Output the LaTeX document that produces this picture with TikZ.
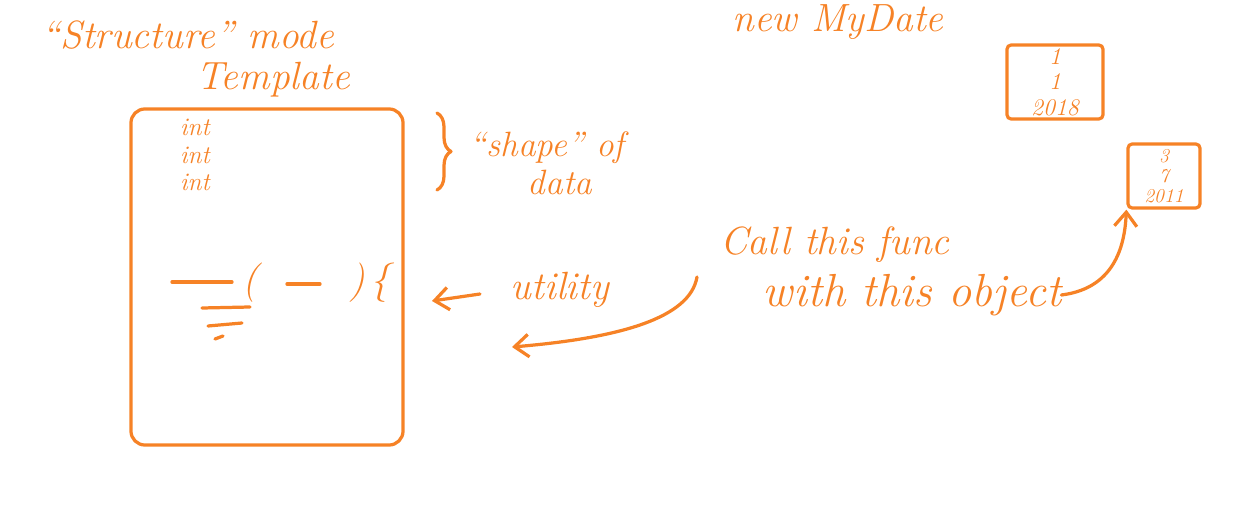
\documentclass[tikz,border=0pt]{standalone}
\usetikzlibrary{arrows.meta,positioning,calc,decorations.pathreplacing}
\definecolor{inkorange}{RGB}{246,130,38}

\tikzset{
  sketchtext/.style={text=inkorange, font=\fontsize{28}{32}\selectfont\itshape, inner sep=0pt, align=center},
  smalltext/.style={text=inkorange, font=\fontsize{16}{17}\selectfont\itshape, inner sep=0pt},
  sketchbox/.style={draw=inkorange, line width=2.3pt, rounded corners=3pt, inner sep=0pt},
  sketchline/.style={draw=inkorange, line width=2.3pt, line cap=round, line join=round},
  sketcharrow/.style={sketchline, -{Straight Barb[length=10pt,width=16pt,line width=2.3pt]}},
}

\begin{document}
\begin{tikzpicture}[x=0.025cm,y=-0.025cm]
\useasboundingbox (0,0) rectangle (1242,524);

% Titles
\node[sketchtext] (struct_title) at (188,35) {``Structure'' mode};
\node[sketchtext] (template_title) at (273,80) {Template};
\node[sketchtext] (new_title) at (838,22) {new MyDate};

% Template
\node[sketchbox, rounded corners=0.35cm, minimum width=6.8cm, minimum height=8.4cm] (template_box) at (267,277) {};
\node[smalltext, align=left, font=\fontsize{18}{19.5}\selectfont\itshape] (fields) at (195,155) {int\\int\\int};

% Function sketch
\draw[sketchline] (172,282) -- (232,282);
\node[sketchtext] (open_par) at (250,283) {(};
\draw[sketchline] (287,284) -- (320,284);
\node[sketchtext] (close_par) at (357,283) {)};
\node[sketchtext] (open_brace) at (380,283) {\{};
\draw[sketchline] (202,308) -- (250,307);
\draw[sketchline] (208,326) -- (242,323);
\draw[sketchline] (215,339) -- (223,336);

% Shape of data
\draw[sketchline, decorate, decoration={brace, amplitude=0.35cm}] (437,113) -- (437,190);
\node[sketchtext, font=\fontsize{25}{29}\selectfont\itshape] (shape_label) at (547,148) {``shape'' of};
\node[sketchtext, font=\fontsize{25}{29}\selectfont\itshape] (data_label) at (560,182) {data};

% Utility
\node[sketchtext] (utility) at (560,290) {utility};
\coordinate (util_tail) at (480,294);
\coordinate (util_tip) at (432,301);

% Objects
\node[sketchbox, minimum width=2.4cm, minimum height=1.85cm, align=center, text=inkorange,
  font=\fontsize{17}{18}\selectfont\itshape] (date_one) at (1055,82) {1\\1\\2018};
\node[sketchbox, minimum width=1.8cm, minimum height=1.6cm, align=center, text=inkorange,
  font=\fontsize{14}{14}\selectfont\itshape] (date_two) at (1164,176) {3\\7\\2011};

% Call
\node[sketchtext] (call_label) at (835,245) {Call this func};
\node[sketchtext, font=\fontsize{33}{36}\selectfont\itshape] (object_label) at (912,295) {with this object};
\coordinate (call_tail) at (697,277);
\coordinate (func_tip) at (512,347);

% Arrows
\draw[sketcharrow] (util_tail) -- (util_tip);
\draw[sketcharrow] (call_tail) .. controls (690,318) and (620,338) .. (func_tip);
\draw[sketcharrow] (object_label.east) .. controls (1118,288) and (1125,240) .. (date_two.south west);

\end{tikzpicture}
\end{document}
